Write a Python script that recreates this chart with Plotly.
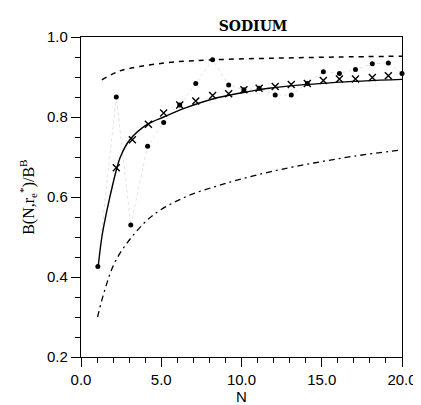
import plotly.graph_objects as go

# --- data ---
# solid curve
solid_N = [1.07, 1.3, 1.63, 2.0, 2.24, 2.44, 3.04, 4.15, 5.15, 6.47, 8.48, 10.5, 11.7, 15.7, 20.0]
solid_B = [0.425, 0.50, 0.569, 0.635, 0.673, 0.699, 0.743, 0.782, 0.800, 0.822, 0.848, 0.864, 0.872, 0.886, 0.894]

# dashed curve
dash_N = [1.3, 2.4, 3.65, 5.66, 8.2, 12.0, 16.0, 20.0]
dash_B = [0.893, 0.915, 0.926, 0.937, 0.943, 0.947, 0.950, 0.952]

# dash-dot curve
dashdot_N = [1.03, 1.5, 2.1, 3.1, 4.5, 6.5, 8.5, 10.0, 12.0, 14.5, 17.0, 20.0]
dashdot_B = [0.300, 0.370, 0.436, 0.497, 0.555, 0.600, 0.628, 0.645, 0.665, 0.685, 0.702, 0.718]

# crosses
cross_N = [2.2, 3.2, 4.2, 5.15, 6.15, 7.15, 8.2, 9.2, 10.15, 11.1, 12.1, 13.1, 14.1, 15.1, 16.1, 17.1, 18.15, 19.15]
cross_B = [0.673, 0.743, 0.782, 0.810, 0.830, 0.840, 0.854, 0.858, 0.868, 0.872, 0.876, 0.881, 0.884, 0.891, 0.895, 0.895, 0.899, 0.903]

# filled dots
dot_N = [1.05, 2.2, 3.1, 4.15, 5.15, 6.15, 7.15, 8.2, 9.2, 10.15, 11.1, 12.1, 13.1, 14.1, 15.1, 16.1, 17.1, 18.15, 19.15, 20.0]
dot_B = [0.426, 0.850, 0.530, 0.727, 0.786, 0.830, 0.884, 0.943, 0.880, 0.868, 0.872, 0.855, 0.855, 0.884, 0.913, 0.909, 0.919, 0.933, 0.935, 0.909]

x_ticks = [0, 5, 10, 15, 20]
x_tick_labels = ["0.0", "5.0", "10.0", "15.0", "20.0"]
y_ticks = [0.2, 0.4, 0.6, 0.8, 1.0]
y_tick_labels = ["0.2", "0.4", "0.6", "0.8", "1.0"]

fig = go.Figure()

fig.add_trace(go.Scatter(x=dot_N, y=dot_B, mode="lines",
                         line=dict(color="#e2e2e2", width=1, dash="dot"),
                         hoverinfo="skip", showlegend=False))
fig.add_trace(go.Scatter(x=solid_N, y=solid_B, mode="lines", line_shape="spline",
                         line=dict(color="black", width=1.4), showlegend=False))
fig.add_trace(go.Scatter(x=dash_N, y=dash_B, mode="lines", line_shape="spline",
                         line=dict(color="black", width=1.5, dash="5px,5px"), showlegend=False))
fig.add_trace(go.Scatter(x=dashdot_N, y=dashdot_B, mode="lines", line_shape="spline",
                         line=dict(color="black", width=1.3, dash="6px,4px,2px,4px"), showlegend=False))
fig.add_trace(go.Scatter(x=cross_N, y=cross_B, mode="markers",
                         marker=dict(symbol="x-thin", size=7, line=dict(color="black", width=1.4)),
                         showlegend=False, cliponaxis=False))
fig.add_trace(go.Scatter(x=dot_N, y=dot_B, mode="markers",
                         marker=dict(symbol="circle", size=5, color="black"),
                         showlegend=False, cliponaxis=False))

axis_font = dict(family="Liberation Sans, Arial, sans-serif", size=15, color="black")

fig.update_layout(
    width=421, height=405,
    margin=dict(l=73, r=16, t=29, b=46),
    paper_bgcolor="white", plot_bgcolor="white",
    title=dict(text="<b>SODIUM</b>", x=245 / 421, xanchor="center", y=1 - 18 / 405, yanchor="middle",
               font=dict(family="DejaVu Serif, serif", size=14, color="black")),
    xaxis=dict(range=[0, 20], tickvals=x_ticks, ticktext=x_tick_labels,
               ticks="outside", ticklen=9, tickwidth=1.2, tickcolor="black",
               minor=dict(dtick=1, ticks="outside", ticklen=5, tickwidth=1, tickcolor="black"),
               showline=True, linecolor="black", linewidth=1.4, mirror=True,
               showgrid=False, zeroline=False, tickfont=axis_font,
               title=dict(text="N", font=axis_font, standoff=2)),
    yaxis=dict(range=[0.2, 1.0], tickvals=y_ticks, ticktext=y_tick_labels,
               ticks="outside", ticklen=9, tickwidth=1.2, tickcolor="black",
               minor=dict(dtick=0.05, ticks="outside", ticklen=5, tickwidth=1, tickcolor="black"),
               showline=True, linecolor="black", linewidth=1.4, mirror=True,
               showgrid=False, zeroline=False, tickfont=axis_font),
    annotations=[dict(text="B(N,r<sub>e</sub><sup>*</sup>)/B<sup>B</sup>",
                      xref="paper", yref="paper", x=(18 - 73) / 332, y=(359 - 194) / 330,
                      xanchor="center", yanchor="middle", textangle=-90, showarrow=False,
                      font=dict(family="Liberation Serif, serif", size=16, color="black"))],
)

fig.write_html("out.html")
